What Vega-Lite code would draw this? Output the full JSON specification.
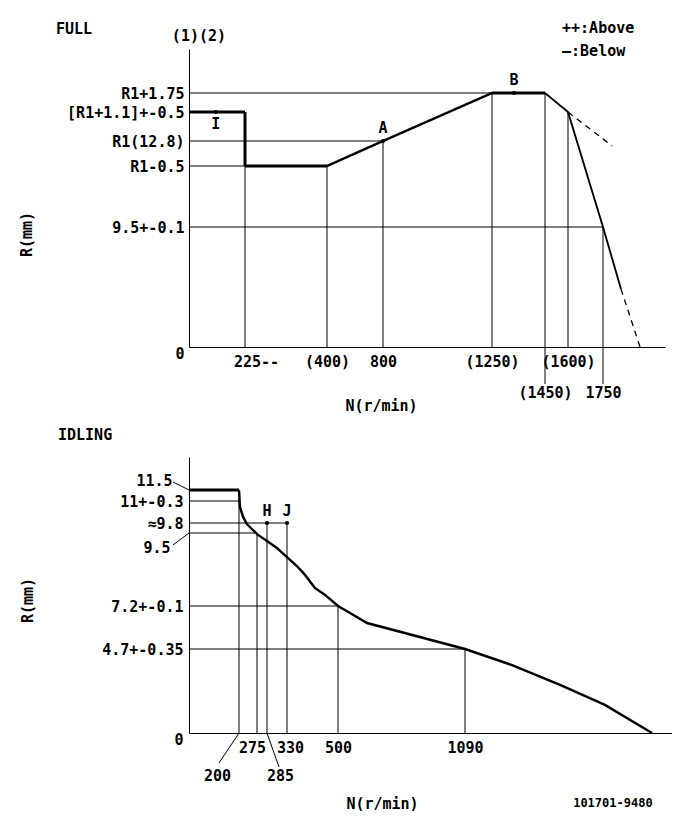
{
  "$schema": "https://vega.github.io/schema/vega-lite/v6.json",
  "background": "white",
  "padding": {"left": 19, "top": 21, "right": 0, "bottom": 0},
  "config": {
    "view": {"stroke": null},
    "font": "DejaVu Sans Mono",
    "axis": {
      "labelFont": "DejaVu Sans Mono", "labelFontWeight": "bold", "labelFontSize": 15, "labelColor": "black",
      "titleFont": "DejaVu Sans Mono", "titleFontWeight": "bold", "titleFontSize": 15, "titleColor": "black",
      "domainColor": "black", "domainWidth": 1, "ticks": false, "grid": false,
      "labelOverlap": false, "labelBound": false, "labelFlush": false
    },
    "title": {"font": "DejaVu Sans Mono", "fontWeight": "bold", "fontSize": 15, "color": "black"},
    "text": {"font": "DejaVu Sans Mono", "fontWeight": "bold", "fontSize": 15, "color": "black"},
    "concat": {"spacing": 15}
  },
  "datasets": {
    "full_guides": [
      {"n1": 0, "r1": 14.55, "n2": 1250, "r2": 14.55},
      {"n1": 0, "r1": 12.8, "n2": 800, "r2": 12.8},
      {"n1": 0, "r1": 12.3, "n2": 225, "r2": 12.3},
      {"n1": 0, "r1": 9.5, "n2": 1750, "r2": 9.5},
      {"n1": 225, "r1": 0, "n2": 225, "r2": 13.9},
      {"n1": 400, "r1": 0, "n2": 400, "r2": 12.3},
      {"n1": 800, "r1": 0, "n2": 800, "r2": 12.8},
      {"n1": 1250, "r1": 0, "n2": 1250, "r2": 14.55},
      {"n1": 1450, "r1": 0, "n2": 1450, "r2": 14.55},
      {"n1": 1600, "r1": 0, "n2": 1600, "r2": 13.9},
      {"n1": 1750, "r1": 0, "n2": 1750, "r2": 9.5}
    ],
    "full_ext": [{"n": 1450}, {"n": 1750}],
    "full_curve": [
      {"seg": "a", "kind": "thick", "i": 1, "n": 0, "r": 13.9},
      {"seg": "a", "kind": "thick", "i": 2, "n": 225, "r": 13.9},
      {"seg": "a", "kind": "thick", "i": 3, "n": 225, "r": 12.3},
      {"seg": "a", "kind": "thick", "i": 4, "n": 400, "r": 12.3},
      {"seg": "b", "kind": "thin", "i": 1, "n": 400, "r": 12.3},
      {"seg": "b", "kind": "thin", "i": 2, "n": 800, "r": 12.8},
      {"seg": "b", "kind": "thin", "i": 3, "n": 1250, "r": 14.55},
      {"seg": "c", "kind": "thick", "i": 1, "n": 1250, "r": 14.55},
      {"seg": "c", "kind": "thick", "i": 2, "n": 1450, "r": 14.55},
      {"seg": "d", "kind": "medium", "i": 1, "n": 1450, "r": 14.55},
      {"seg": "d", "kind": "medium", "i": 2, "n": 1600, "r": 13.9},
      {"seg": "d", "kind": "medium", "i": 3, "n": 1750, "r": 9.5},
      {"seg": "d", "kind": "medium", "i": 4, "n": 1827, "r": 4.6},
      {"seg": "e", "kind": "dashed", "i": 1, "n": 1600, "r": 13.9},
      {"seg": "e", "kind": "dashed", "i": 2, "n": 1789, "r": 12.7},
      {"seg": "f", "kind": "dashed", "i": 1, "n": 1827, "r": 4.6},
      {"seg": "f", "kind": "dashed", "i": 2, "n": 1909, "r": 0}
    ],
    "full_points": [
      {"name": "I", "n": 108, "r": 13.9},
      {"name": "A", "n": 800, "r": 12.8},
      {"name": "B", "n": 1333, "r": 14.55}
    ],
    "idle_guides": [
      {"n1": 0, "r1": 11, "n2": 200, "r2": 11},
      {"n1": 0, "r1": 9.8, "n2": 330, "r2": 9.8},
      {"n1": 0, "r1": 9.5, "n2": 275, "r2": 9.5},
      {"n1": 0, "r1": 7.2, "n2": 500, "r2": 7.2},
      {"n1": 0, "r1": 4.7, "n2": 1090, "r2": 4.7},
      {"n1": 200, "r1": 0, "n2": 200, "r2": 11.5},
      {"n1": 275, "r1": 0, "n2": 275, "r2": 9.5},
      {"n1": 285, "r1": 0, "n2": 285, "r2": 9.8},
      {"n1": 330, "r1": 0, "n2": 330, "r2": 9.8},
      {"n1": 500, "r1": 0, "n2": 500, "r2": 7.2},
      {"n1": 1090, "r1": 0, "n2": 1090, "r2": 4.7}
    ],
    "idle_curve": [
      {"seg": "a", "kind": "thick", "i": 1, "n": 0, "r": 11.5},
      {"seg": "a", "kind": "thick", "i": 2, "n": 200, "r": 11.5},
      {"seg": "b", "kind": "thin", "i": 1, "n": 200, "r": 11.5},
      {"seg": "b", "kind": "thin", "i": 2, "n": 204, "r": 10.67},
      {"seg": "b", "kind": "thin", "i": 3, "n": 217, "r": 10.13},
      {"seg": "b", "kind": "thin", "i": 4, "n": 233, "r": 9.77},
      {"seg": "b", "kind": "thin", "i": 5, "n": 258, "r": 9.59},
      {"seg": "b", "kind": "thin", "i": 6, "n": 276, "r": 9.44},
      {"seg": "b", "kind": "thin", "i": 7, "n": 285, "r": 9.25},
      {"seg": "b", "kind": "thin", "i": 8, "n": 307, "r": 9.03},
      {"seg": "b", "kind": "thin", "i": 9, "n": 330, "r": 8.74},
      {"seg": "b", "kind": "thin", "i": 10, "n": 363, "r": 8.46},
      {"seg": "b", "kind": "thin", "i": 11, "n": 390, "r": 8.18},
      {"seg": "b", "kind": "thin", "i": 12, "n": 423, "r": 7.77},
      {"seg": "b", "kind": "thin", "i": 13, "n": 457, "r": 7.55},
      {"seg": "b", "kind": "thin", "i": 14, "n": 500, "r": 7.2},
      {"seg": "b", "kind": "thin", "i": 15, "n": 556, "r": 6.79},
      {"seg": "b", "kind": "thin", "i": 16, "n": 635, "r": 6.21},
      {"seg": "b", "kind": "thin", "i": 17, "n": 1090, "r": 4.7},
      {"seg": "b", "kind": "thin", "i": 18, "n": 1309, "r": 3.8},
      {"seg": "b", "kind": "thin", "i": 19, "n": 1532, "r": 2.69},
      {"seg": "b", "kind": "thin", "i": 20, "n": 1741, "r": 1.57},
      {"seg": "b", "kind": "thin", "i": 21, "n": 1960, "r": 0}
    ],
    "idle_points": [
      {"name": "H", "n": 285, "r": 9.8},
      {"name": "J", "n": 330, "r": 9.8}
    ]
  },
  "vconcat": [
    {
      "width": 476,
      "height": 298,
      "title": {"text": "FULL", "anchor": "start", "frame": "group", "dx": -133, "offset": 4, "dy": 20},
      "layer": [
        {
          "data": {"name": "full_guides"},
          "mark": {"type": "rule", "color": "black", "strokeWidth": 1},
          "encoding": {
            "x": {
              "field": "n1", "type": "quantitative",
              "scale": {"domain": [0, 225, 400, 800, 1250, 1450, 1600, 1750, 2016], "range": [0, 56, 138, 194, 303, 356, 379, 414, 476], "nice": false, "zero": false},
              "axis": {
                "title": "N(r/min)",
                "values": [225, 400, 800, 1250, 1450, 1600, 1750],
                "labelExpr": "datum.value == 225 ? '225--' : (datum.value == 800 || datum.value == 1750) ? '' + datum.value : '(' + datum.value + ')'",
                "labelPadding": {"condition": {"test": "datum.value == 1450 || datum.value == 1750", "value": 38}, "value": 7},
                "labelOffset": {"condition": {"test": "datum.value == 225", "value": 11}, "value": 0},
                "titleX": 192, "titleY": 58, "titleAlign": "center", "titleBaseline": "middle"
              }
            },
            "x2": {"field": "n2"},
            "y": {
              "field": "r1", "type": "quantitative",
              "scale": {"domain": [0, 9.5, 12.3, 12.8, 13.9, 14.55, 16], "range": [298, 178, 117, 92, 63, 44, 0], "nice": false, "zero": false},
              "axis": {
                "title": "R(mm)",
                "values": [0, 9.5, 12.3, 12.8, 13.9, 14.55],
                "labelExpr": "datum.value == 14.55 ? 'R1+1.75' : datum.value == 13.9 ? '[R1+1.1]+-0.5' : datum.value == 12.8 ? 'R1(12.8)' : datum.value == 12.3 ? 'R1-0.5' : datum.value == 9.5 ? '9.5+-0.1' : '0'",
                "labelPadding": 5,
                "labelOffset": {"condition": {"test": "datum.value == 0", "value": 6}, "value": 0},
                "titleX": -163, "titleY": 185, "titleAlign": "center", "titleBaseline": "middle", "titleAngle": -90
              }
            },
            "y2": {"field": "r2"}
          }
        },
        {
          "data": {"name": "full_ext"},
          "mark": {"type": "rule", "color": "black", "strokeWidth": 1, "y2Offset": 37},
          "encoding": {
            "x": {"field": "n", "type": "quantitative"},
            "y": {"datum": 0, "type": "quantitative"},
            "y2": {"datum": 0}
          }
        },
        {
          "data": {"name": "full_curve"},
          "mark": {"type": "line", "color": "black"},
          "encoding": {
            "x": {"field": "n", "type": "quantitative"},
            "y": {"field": "r", "type": "quantitative"},
            "detail": {"field": "seg"},
            "order": {"field": "i"},
            "strokeWidth": {"field": "kind", "type": "nominal", "scale": {"domain": ["thick", "thin", "medium", "dashed"], "range": [3, 1.3, 2.2, 2]}, "legend": null},
            "strokeDash": {"field": "kind", "type": "nominal", "scale": {"domain": ["thick", "thin", "medium", "dashed"], "range": [[1, 0], [1, 0], [1, 0], [6, 5]]}, "legend": null}
          }
        },
        {
          "data": {"name": "full_points"},
          "mark": {"type": "point", "shape": "circle", "filled": true, "color": "black", "size": 18, "opacity": 1},
          "encoding": {
            "x": {"field": "n", "type": "quantitative"},
            "y": {"field": "r", "type": "quantitative"}
          }
        },
        {
          "data": {"name": "full_points"},
          "transform": [{"filter": "datum.name != 'I'"}],
          "mark": {"type": "text", "dy": -13},
          "encoding": {
            "x": {"field": "n", "type": "quantitative"},
            "y": {"field": "r", "type": "quantitative"},
            "text": {"field": "name"}
          }
        },
        {
          "data": {"name": "full_points"},
          "transform": [{"filter": "datum.name == 'I'"}],
          "mark": {"type": "text", "dy": 12},
          "encoding": {
            "x": {"field": "n", "type": "quantitative"},
            "y": {"field": "r", "type": "quantitative"},
            "text": {"field": "name"}
          }
        },
        {
          "data": {"values": [{}]},
          "mark": {"type": "text", "text": "(1)(2)", "align": "center"},
          "encoding": {
            "x": {"datum": 40, "type": "quantitative"},
            "y": {"datum": 16.43, "type": "quantitative"}
          }
        },
        {
          "data": {"values": [{}]},
          "mark": {"type": "text", "text": "++:Above", "align": "left"},
          "encoding": {
            "x": {"datum": 1561, "type": "quantitative"},
            "y": {"datum": 16.69, "type": "quantitative"}
          }
        },
        {
          "data": {"values": [{}]},
          "mark": {"type": "text", "text": "—:Below", "align": "left"},
          "encoding": {
            "x": {"datum": 1561, "type": "quantitative"},
            "y": {"datum": 15.93, "type": "quantitative"}
          }
        }
      ]
    },
    {
      "width": 483,
      "height": 276,
      "title": {"text": "IDLING", "anchor": "start", "frame": "group", "dx": -131, "offset": 14},
      "layer": [
        {
          "data": {"name": "idle_guides"},
          "mark": {"type": "rule", "color": "black", "strokeWidth": 1},
          "encoding": {
            "x": {
              "field": "n1", "type": "quantitative",
              "scale": {"domain": [0, 200, 275, 285, 330, 500, 1090, 2053], "range": [0, 50, 68, 78, 98, 149, 276, 483], "nice": false, "zero": false},
              "axis": {
                "title": "N(r/min)",
                "values": [200, 275, 285, 330, 500, 1090],
                "format": "d",
                "labelPadding": {"condition": {"test": "datum.value == 200 || datum.value == 285", "value": 35}, "value": 7},
                "labelOffset": {"condition": [
                  {"test": "datum.value == 200", "value": -22},
                  {"test": "datum.value == 285", "value": 13},
                  {"test": "datum.value == 275", "value": -5},
                  {"test": "datum.value == 330", "value": 3}
                ], "value": 0},
                "titleX": 193, "titleY": 70, "titleAlign": "center", "titleBaseline": "middle"
              }
            },
            "x2": {"field": "n2"},
            "y": {
              "field": "r1", "type": "quantitative",
              "scale": {"domain": [0, 4.7, 7.2, 9.5, 9.8, 11, 11.5, 13], "range": [276, 192, 149, 76, 66, 44, 33, 0], "nice": false, "zero": false},
              "axis": {
                "title": "R(mm)",
                "values": [0, 4.7, 7.2, 9.5, 9.8, 11, 11.5],
                "labelExpr": "datum.value == 4.7 ? '4.7+-0.35' : datum.value == 7.2 ? '7.2+-0.1' : datum.value == 9.8 ? '≈9.8' : datum.value == 11 ? '11+-0.3' : datum.value == 11.5 ? '11.5' : datum.value == 9.5 ? '9.5' : '0'",
                "labelPadding": {"condition": [
                  {"test": "datum.value == 11.5", "value": 17},
                  {"test": "datum.value == 9.5", "value": 19}
                ], "value": 6},
                "labelOffset": {"condition": [
                  {"test": "datum.value == 0", "value": 6},
                  {"test": "datum.value == 11.5", "value": -10},
                  {"test": "datum.value == 9.5", "value": 14}
                ], "value": 0},
                "titleX": -162, "titleY": 143, "titleAlign": "center", "titleBaseline": "middle", "titleAngle": -90
              }
            },
            "y2": {"field": "r2"}
          }
        },
        {
          "data": {"name": "idle_curve"},
          "mark": {"type": "line", "color": "black"},
          "encoding": {
            "x": {"field": "n", "type": "quantitative"},
            "y": {"field": "r", "type": "quantitative"},
            "detail": {"field": "seg"},
            "order": {"field": "i"},
            "strokeWidth": {"field": "kind", "type": "nominal", "scale": {"domain": ["thick", "thin"], "range": [3, 1.6]}, "legend": null}
          }
        },
        {
          "data": {"name": "idle_points"},
          "mark": {"type": "point", "shape": "circle", "filled": true, "color": "black", "size": 18, "opacity": 1},
          "encoding": {
            "x": {"field": "n", "type": "quantitative"},
            "y": {"field": "r", "type": "quantitative"}
          }
        },
        {
          "data": {"name": "idle_points"},
          "mark": {"type": "text", "dy": -12},
          "encoding": {
            "x": {"field": "n", "type": "quantitative"},
            "y": {"field": "r", "type": "quantitative"},
            "text": {"field": "name"}
          }
        },
        {
          "data": {"values": [{}]},
          "mark": {"type": "rule", "color": "black", "strokeWidth": 1, "x2Offset": -20, "y2Offset": 30},
          "encoding": {
            "x": {"datum": 200, "type": "quantitative"}, "x2": {"datum": 200},
            "y": {"datum": 0, "type": "quantitative"}, "y2": {"datum": 0}
          }
        },
        {
          "data": {"values": [{}]},
          "mark": {"type": "rule", "color": "black", "strokeWidth": 1, "x2Offset": 12, "y2Offset": 34},
          "encoding": {
            "x": {"datum": 285, "type": "quantitative"}, "x2": {"datum": 285},
            "y": {"datum": 0, "type": "quantitative"}, "y2": {"datum": 0}
          }
        },
        {
          "data": {"values": [{}]},
          "mark": {"type": "rule", "color": "black", "strokeWidth": 1, "x2Offset": -16, "y2Offset": -8},
          "encoding": {
            "x": {"datum": 0, "type": "quantitative"}, "x2": {"datum": 0},
            "y": {"datum": 11.5, "type": "quantitative"}, "y2": {"datum": 11.5}
          }
        },
        {
          "data": {"values": [{}]},
          "mark": {"type": "rule", "color": "black", "strokeWidth": 1, "x2Offset": -16, "y2Offset": 12},
          "encoding": {
            "x": {"datum": 0, "type": "quantitative"}, "x2": {"datum": 0},
            "y": {"datum": 9.5, "type": "quantitative"}, "y2": {"datum": 9.5}
          }
        },
        {
          "data": {"values": [{}]},
          "mark": {"type": "text", "text": "101701-9480", "align": "center", "fontSize": 12},
          "encoding": {
            "x": {"datum": 1778, "type": "quantitative"},
            "y": {"datum": -3.9, "type": "quantitative"}
          }
        }
      ]
    }
  ]
}
